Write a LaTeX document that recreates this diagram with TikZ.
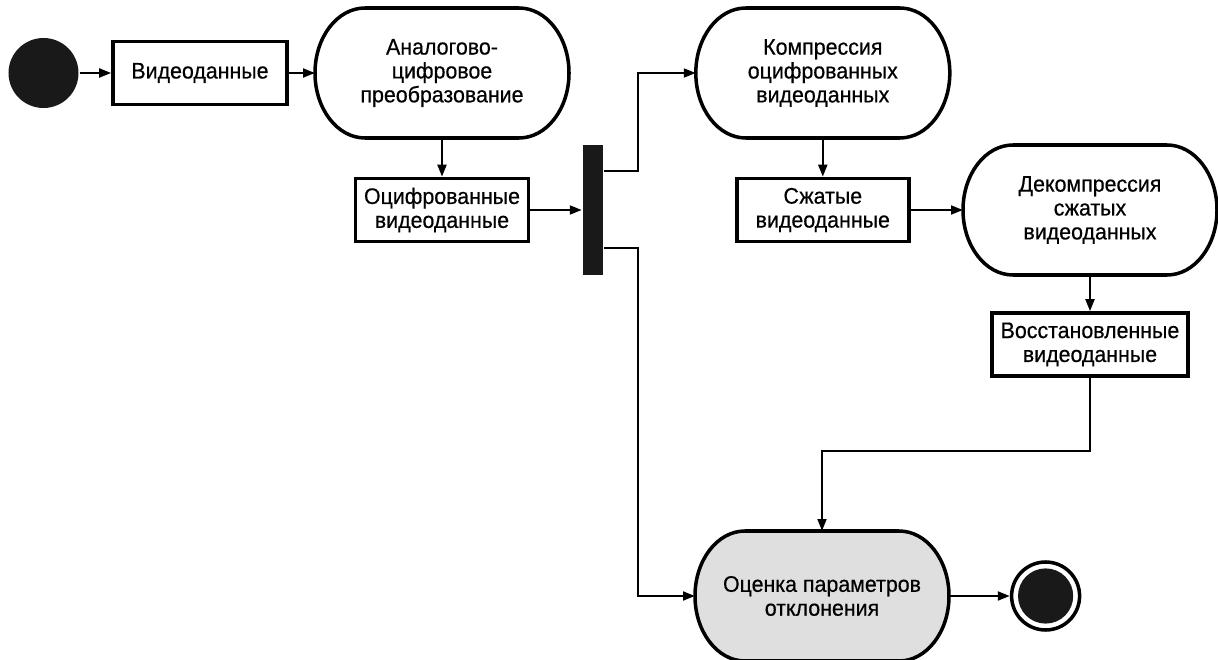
\documentclass[tikz,border=0pt]{standalone}
\usepackage{fontspec}
\setmainfont{Liberation Sans}[FakeStretch=0.95, FakeBold=0.5]
\usetikzlibrary{arrows.meta,backgrounds}

\begin{document}
\begin{tikzpicture}[>={Triangle[length=3mm,width=2.2mm]}, line width=1.7pt,
  txt/.style={align=center, font=\fontsize{16}{17}\selectfont},
  data/.style={txt, draw, line width=2.5pt, minimum height=1.575cm, inner sep=2pt},
  act/.style={txt, minimum width=6.35cm, minimum height=3.25cm, outer sep=0pt},
  dot/.style={circle, fill=black!90, minimum size=1.75cm, inner sep=0pt}]
\useasboundingbox (0,0) rectangle (30.45,16.475);

\node[dot] (start) at (1.0875,14.65) {};
\node[data, minimum width=4.35cm] (vid) at (5,14.65) {Видеоданные};
\node[act] (anlg) at (11.05,14.65) {Аналогово-\\цифровое\\преобразование};
\node[data, minimum width=4.325cm] (dig) at (11.05,11.225) {Оцифрованные\\видеоданные};
\node[fill=black!90, minimum width=0.5cm, minimum height=3.25cm, inner sep=0pt] (bar) at (14.825,11.225) {};

\node[act] (komp) at (20.57,14.65) {Компрессия\\оцифрованных\\видеоданных};
\node[data, minimum width=4.3cm] (zhat) at (20.57,11.225) {Сжатые\\видеоданные};
\node[act] (dekomp) at (27.25,11.225) {Декомпрессия\\сжатых\\видеоданных};
\node[data, minimum width=4.9cm] (rest) at (27.25,7.8625) {Восстановленные\\видеоданные};

\node[act] (eval) at (20.55,1.575) {Оценка параметров\\отклонения};
\node[circle, draw, line width=2.5pt, minimum size=1.7cm, inner sep=0pt,
  path picture={\fill[black!90] (path picture bounding box.center) circle (0.69cm);}] (fin) at (26.14,1.575) {};

\coordinate (up) at (15.95,12.2);
\coordinate (dn) at (15.95,10.275);
\coordinate (joint) at (27.25,5.2);

% activity outlines
\begin{scope}[on background layer]
\foreach \n/\c in {anlg/white, komp/white, dekomp/white, eval/gray!25}
{
  \filldraw[fill=\c, line width=2.5pt] ([xshift=1.25cm]\n.north west) -- ([xshift=-1.25cm]\n.north east)
    arc[start angle=90, end angle=-90, x radius=1.25cm, y radius=1.625cm]
    -- ([xshift=1.25cm]\n.south west)
    arc[start angle=270, end angle=90, x radius=1.25cm, y radius=1.625cm] -- cycle;
}
\end{scope}

\draw[->] (start) -- (vid);
\draw[->] (vid) -- (anlg);
\draw[->] (anlg) -- (dig);
\draw[->] (dig) -- (bar);
\draw[->] (bar.east |- up) -- (up) |- (komp);
\draw[->] (bar.east |- dn) -- (dn) |- (eval);
\draw[->] (komp) -- (zhat);
\draw[->] (zhat) -- (dekomp);
\draw[->] (dekomp) -- (rest);
\draw[->] (rest) -- (joint) -| (eval);
\draw[->] (eval) -- (fin);

\end{tikzpicture}
\end{document}
